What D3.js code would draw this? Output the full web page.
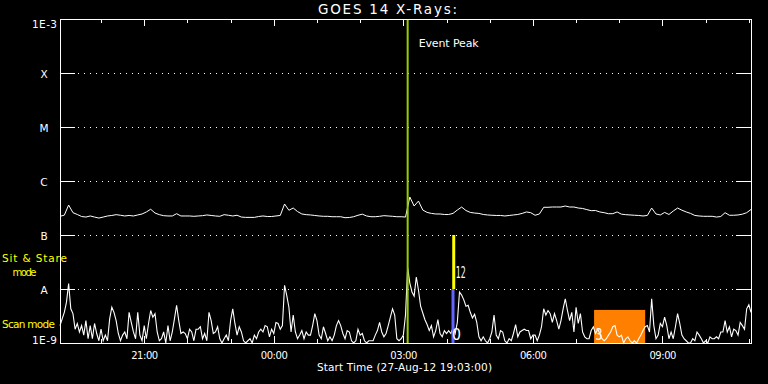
<!DOCTYPE html>
<html><head><meta charset="utf-8">
<script src="https://cdn.jsdelivr.net/npm/d3@7"></script>
<style>
html,body{margin:0;padding:0;background:#000;}
svg{display:block;background:#000;}
text{font-family:"DejaVu Sans",sans-serif;fill:#fff;}
</style>
</head><body>
<svg id="chart" width="768" height="384"></svg>
<script>
// ---------------- data ----------------
const chartTitle = "GOES 14 X-Rays:";
const xAxisTitle = "Start Time (27-Aug-12 19:03:00)";
const startTime = Date.UTC(2012, 7, 27, 19, 3);
const endTime   = Date.UTC(2012, 7, 28, 11, 3);
const fluxUnit = 1e-9;              // values below are in units of 1e-9 W/m^2
const shortCadenceMin = 3;          // 0.5-4 A channel sample spacing
const longCadenceMin = 6;           // 1-8 A channel sample spacing

const shortFlux = [
 2.1,2.8,3.7,5.7,12.6,4.3,3.5,1.8,2.3,1.6,
 2.1,1.4,2.6,1.2,2.1,1.2,2.3,1.5,1.1,1.8,
 1.1,1.4,1.1,2.8,4.6,3.7,2.6,1.5,1.1,1.4,
 1.6,1.2,3.7,2.4,1.6,1.2,3.7,1.4,1.1,2.1,
 1.2,2.3,4.0,3.0,3.5,1.6,1.1,1.2,1.6,1.0,
 2.1,1.1,1.6,2.8,
 5.0,2.6,1.5,1.6,1.5,1.2,
 1.8,1.6,1.1,1.8,1.8,2.0,1.2,1.5,1.1,3.7,
 2.6,1.5,1.6,2.0,1.2,1.0,1.2,1.4,1.1,2.6,
 4.3,2.3,1.4,2.0,1.6,1.1,1.0,1.1,1.2,1.0,
 1.4,1.2,1.6,1.8,1.6,2.1,2.0,1.3,1.8,1.5,
 2.4,2.3,1.8,2.1,11.7,7.6,4.6,1.6,
 3.3,1.6,
 1.2,1.4,1.7,1.2,1.6,1.4,1.4,2.1,3.5,2.6,
 1.4,1.2,2.0,1.5,1.1,1.3,1.1,1.4,2.1,2.6,
 2.1,1.5,1.2,1.7,1.6,1.1,1.0,1.1,1.8,1.4,
 1.5,1.1,1.0,1.1,1.1,1.1,1.4,1.7,2.4,1.6,
 1.3,1.5,2.1,3.0,4.3,3.3,1.2,1.1,1.2,1.4,
 3.3,25,12.9,8.8,7.4,16.7,9.6,4.8,3.6,2.7,
 2.2,1.7,2.1,1.3,1.7,2.7,1.5,1.3,1.7,1.5,
 1.7,1.5,1.9,1.5,2.4,8.8,7.7,6.3,4.8,5.0,
 3.7,2.9,3.4,2.4,1.3,1.1,1.3,1.1,1.0,1.2,
 1.6,3.3,1.4,1.2,1.7,1.6,1.1,1.0,1.2,1.1,
 1.5,2.2,1.3,1.6,1.7,
 1.8,1.7,1.7,1.2,1.4,
 1.4,1.1,1.4,2.0,4.3,3.3,4.0,3.5,2.4,3.5,
 2.6,1.8,2.6,4.3,6.6,4.0,2.6,3.7,1.6,4.6,
 2.3,3.5,1.6,1.3,1.2,1.2,1.7,2.0,1.5,1.8,
 1.5,1.2,1.1,1.2,1.4,1.6,2.0,2.1,1.4,1.3,
 1.4,1.0,1.2,1.3,1.1,1.0,1.1,1.0,
 1.2,1.4,
 1.7,2.0,2.1,1.6,6.6,2.1,1.2,1.4,2.3,2.0,
 3.0,2.1,1.2,1.6,1.2,2.0,3.5,2.3,1.4,1.2,
 1.1,1.0,1.0,1.2,1.1,1.6,1.4,1.2,1.0,1.1,
 1.0,1.3,1.2,1.2,1.3,1.2,1.6,1.6,2.6,1.6,
 2.0,1.3,1.8,1.7,1.4,2.4,2.1,1.8,4.3,5.1,
 3.7
];

const longFlux = [
 222,233,359,259,240,220,215,225,215,206,
 215,225,230,238,232,225,230,225,235,245,
 267,300,255,238,228,225,225,
 248,225,225,
 225,222,225,228,235,230,225,222,238,232,
 225,232,215,212,212,212,220,225,220,220,
 225,230,375,287,
 316,272,245,238,235,230,
 225,222,222,218,218,218,209,211,218,232,
 243,225,218,218,222,228,225,222,218,218,
 215,
 505,344,425,290,262,251,245,245,240,
 240,251,290,329,284,262,255,251,240,235,
 232,230,230,225,230,235,240,251,
 267,259,
 232,245,326,326,330,330,330,344,330,330,
 316,310,295,282,284,267,259,248,248,267,
 243,238,235,232,
 230,225,230,316,245,235,
 262,240,278,316,288,267,251,230,225,222,
 222,222,215,220,259,232,232,235,243,259,
 297
];

const yTickValues = [1e-9, 1e-8, 1e-7, 1e-6, 1e-5, 1e-4, 1e-3];
const yTickLabels = ["1E-9", "A", "B", "C", "M", "X", "1E-3"];
const gridValues  = [1e-8, 1e-7, 1e-6, 1e-5, 1e-4];

const eventPeakTime = Date.UTC(2012, 7, 28, 3, 6);
const eventPeakLabel = "Event Peak";
const modeBars = [
  {time: Date.UTC(2012, 7, 28, 4, 10), lo: 1e-8, hi: 1e-7, color: "#ffff00", label: "12"},
  {time: Date.UTC(2012, 7, 28, 4, 9),  lo: 1e-9, hi: 1e-8, color: "#6464ff", label: "0"}
];
const scanBlock = {start: Date.UTC(2012, 7, 28, 7, 25), end: Date.UTC(2012, 7, 28, 8, 36), top: 4.1e-9, label: "3"};
const modeLabels = [
  {lines: ["Sit & Stare", "mode"]},
  {lines: ["Scan mode"]}
];

// ---------------- drawing ----------------
const svg = d3.select("#chart");
const L = 60, R = 751, T = 19, B = 343;

const x = d3.scaleUtc().domain([startTime, endTime]).range([L, R]);
const y = d3.scaleLog().domain([1e-9, 1e-3]).range([B, T]);

// frame
svg.append("rect").attr("x", L + 0.5).attr("y", T + 0.5)
  .attr("width", R - L).attr("height", B - T)
  .attr("fill", "none").attr("stroke", "#fff").attr("stroke-width", 1)
  .attr("shape-rendering", "crispEdges");

// dotted grid
svg.append("g").selectAll("line").data(gridValues).join("line")
  .attr("x1", L + 18).attr("x2", R - 15)
  .attr("y1", d => Math.round(y(d)) + 0.5).attr("y2", d => Math.round(y(d)) + 0.5)
  .attr("stroke", "#fff").attr("stroke-width", 1)
  .attr("stroke-dasharray", "1,5").attr("shape-rendering", "crispEdges");

function styleAxis(g) {
  g.select(".domain").remove();
  g.selectAll(".tick line").attr("stroke", "#fff").attr("shape-rendering", "crispEdges");
}

// left axis
const yLeft = svg.append("g").attr("transform", `translate(${L},0)`)
  .call(d3.axisLeft(y).tickValues(yTickValues).tickSize(-15)
        .tickFormat((d, i) => yTickLabels[i]));
styleAxis(yLeft);
yLeft.selectAll(".tick text")
  .attr("fill", "#fff").attr("font-family", "DejaVu Sans").attr("font-size", 10.5)
  .attr("dy", null)
  .each(function(d, i) {
    const t = d3.select(this);
    const lab = yTickLabels[i];
    if (lab.startsWith("1E")) {
      t.attr("text-anchor", "end").attr("x", -3)
       .attr("y", i === yTickValues.length - 1 ? 8 : 0.5)
       .attr("textLength", 25).attr("lengthAdjust", "spacing");
    } else {
      t.attr("text-anchor", "middle").attr("x", -16).attr("y", 4.5);
    }
  });

// right axis
const yRight = svg.append("g").attr("transform", `translate(${R},0)`)
  .call(d3.axisRight(y).tickValues(yTickValues).tickSize(-15).tickFormat(""));
styleAxis(yRight);

// top axis ticks
[[d3.utcHour.every(1), -4], [d3.utcHour.every(3), -7]].forEach(([iv, sz]) => {
  const g = svg.append("g").attr("transform", `translate(0,${T})`)
    .call(d3.axisTop(x).ticks(iv).tickSize(sz).tickFormat(""));
  styleAxis(g);
});
// bottom axis
const gMinor = svg.append("g").attr("transform", `translate(0,${B})`)
  .call(d3.axisBottom(x).ticks(d3.utcHour.every(1)).tickSize(-4).tickFormat(""));
styleAxis(gMinor);
const gBottom = svg.append("g").attr("transform", `translate(0,${B})`)
  .call(d3.axisBottom(x).ticks(d3.utcHour.every(3)).tickSize(-7).tickPadding(9)
        .tickFormat(d3.utcFormat("%H:%M")));
styleAxis(gBottom);
gBottom.selectAll(".tick text").attr("fill", "#fff")
  .attr("font-family", "DejaVu Sans").attr("font-size", 10)
  .attr("textLength", 27).attr("lengthAdjust", "spacing");

// scan block (orange)
svg.append("rect")
  .attr("x", x(scanBlock.start)).attr("y", y(scanBlock.top))
  .attr("width", x(scanBlock.end) - x(scanBlock.start))
  .attr("height", B - y(scanBlock.top))
  .attr("fill", "#ff8000");

// curves
const shortData = shortFlux.map((v, i) => ({t: startTime + i * shortCadenceMin * 60000, v: v * fluxUnit}));
const longData  = longFlux.map((v, i) => ({t: startTime + i * longCadenceMin * 60000, v: v * fluxUnit}));
const line = d3.line().x(d => x(d.t)).y(d => y(d.v));
svg.append("path").datum(longData).attr("d", line)
  .attr("fill", "none").attr("stroke", "#fff").attr("stroke-width", 1);
svg.append("path").datum(shortData).attr("d", line)
  .attr("fill", "none").attr("stroke", "#fff").attr("stroke-width", 1.1);

// event peak line
svg.append("line")
  .attr("x1", x(eventPeakTime)).attr("x2", x(eventPeakTime))
  .attr("y1", T + 1).attr("y2", B)
  .attr("stroke", "#99cc00").attr("stroke-width", 2);
svg.append("text").attr("x", x(eventPeakTime) + 11).attr("y", 47)
  .attr("font-size", 11).attr("textLength", 60).attr("lengthAdjust", "spacing")
  .text(eventPeakLabel);

// mode bars
modeBars.forEach(b => {
  svg.append("rect").attr("x", x(b.time) - 1.5).attr("width", 3)
    .attr("y", y(b.hi)).attr("height", y(b.lo) - y(b.hi))
    .attr("fill", b.color);
});
svg.append("text").attr("x", x(modeBars[0].time) + 2).attr("y", 278)
  .attr("font-size", 15).attr("textLength", 10).attr("lengthAdjust", "spacingAndGlyphs")
  .text(modeBars[0].label);
svg.append("text").attr("x", x(modeBars[1].time) - 1).attr("y", 340)
  .attr("font-size", 15).attr("textLength", 9).attr("lengthAdjust", "spacingAndGlyphs")
  .text(modeBars[1].label);
svg.append("text").attr("x", x(scanBlock.start) + 1.5).attr("y", 340)
  .attr("font-size", 15).attr("textLength", 7).attr("lengthAdjust", "spacingAndGlyphs")
  .text(scanBlock.label);

// mode labels (yellow)
const yl = svg.append("g");
yl.append("text").attr("x", 2).attr("y", 262).attr("font-size", 10.5).style("fill", "#ffff00")
  .attr("textLength", 65).attr("lengthAdjust", "spacing").text(modeLabels[0].lines[0]);
yl.append("text").attr("x", 12.5).attr("y", 275.5).attr("font-size", 10).style("fill", "#ffff00")
  .attr("textLength", 24).attr("lengthAdjust", "spacing").text(modeLabels[0].lines[1]);
yl.append("text").attr("x", 2).attr("y", 328).attr("font-size", 10.5).style("fill", "#ffff00")
  .attr("textLength", 53).attr("lengthAdjust", "spacing").text(modeLabels[1].lines[0]);

// titles
svg.append("text").attr("x", 318).attr("y", 14).attr("font-size", 13.5)
  .attr("textLength", 139).attr("lengthAdjust", "spacing").text(chartTitle);
svg.append("text").attr("x", 317).attr("y", 371).attr("font-size", 10.5)
  .attr("textLength", 175).attr("lengthAdjust", "spacing").text(xAxisTitle);
</script>
</body></html>
